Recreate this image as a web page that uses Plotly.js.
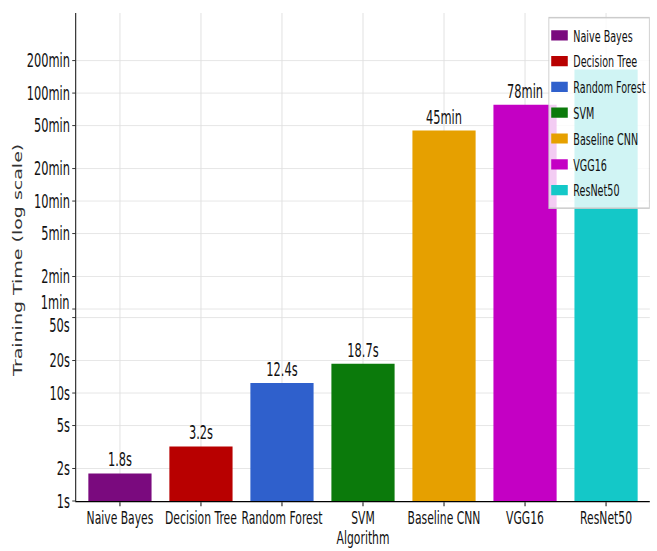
<!DOCTYPE html>
<html>
<head>
<meta charset="utf-8">
<script src="https://cdn.plot.ly/plotly-3.0.1.min.js"></script>
<style>
  html, body { margin: 0; padding: 0; background: #ffffff; overflow: hidden; }
  #frame { width: 657px; height: 551px; overflow: hidden; position: relative; }
  /* chart is laid out wide, then narrowed horizontally for a condensed look */
  #chart { width: 1095px; height: 551px; transform: scaleX(0.6); transform-origin: 0 0; }
</style>
</head>
<body>
<div id="frame"><div id="chart"></div></div>
<script>
// Training time per algorithm, in seconds
const algorithms = ["Naive Bayes", "Decision Tree", "Random Forest", "SVM", "Baseline CNN", "VGG16", "ResNet50"];
const trainSeconds = [1.8, 3.2, 12.4, 18.7, 45 * 60, 78 * 60, 165 * 60];
const valueLabels = ["1.8s", "3.2s", "12.4s", "18.7s", "45min", "78min", ""];
const barColors = ["#7a0a7e", "#b80000", "#2f60cc", "#0b7a0b", "#e6a000", "#c400c4", "#14c8c8"];

// Log-axis ticks (seconds) and their readable labels
const tickSeconds = [1, 2, 5, 10, 20, 50, 60, 120, 300, 600, 1200, 3000, 6000, 12000];
const tickLabels = ["1s", "2s", "5s", "10s", "20s", "50s", "1min", "2min", "5min", "10min", "20min", "50min", "100min", "200min"];
// 50s and 1min sit very close on a log axis; those two labels are nudged apart
const nudgedTicks = { "50s": 7, "1min": -7 };

const font = "DejaVu Sans, sans-serif";

const traces = algorithms.map((name, i) => ({
  type: "bar",
  name: name,
  legendgroup: name,
  x: [name],
  y: [trainSeconds[i]],
  width: 0.78,
  marker: { color: barColors[i], line: { width: 0 } },
  text: [valueLabels[i]],
  textposition: "outside",
  cliponaxis: false,
  textfont: { family: font, size: 19, color: "#111111" },
  hoverinfo: "x+y"
}));

const shownTickText = tickLabels.map(t => (t in nudgedTicks ? "" : t));
const annotations = tickLabels
  .map((t, i) => ({ t, v: tickSeconds[i] }))
  .filter(d => d.t in nudgedTicks)
  .map(d => ({
    xref: "paper", yref: "y",
    x: 0, y: Math.log10(d.v),
    xanchor: "right", yanchor: "middle",
    xshift: -9, yshift: -nudgedTicks[d.t],
    text: d.t, showarrow: false,
    font: { family: font, size: 19, color: "#111111" }
  }));

// axis titles
annotations.push({
  xref: "paper", yref: "paper", x: 0.5, y: 0,
  xanchor: "center", yanchor: "middle", yshift: -36,
  text: "Algorithm", showarrow: false,
  font: { family: font, size: 18, color: "#111111" }
});
annotations.push({
  xref: "paper", yref: "paper", x: 0, y: 0.5,
  xanchor: "center", yanchor: "middle", xshift: -97, yshift: -4,
  textangle: -90,
  text: "Training Time (log scale)", showarrow: false,
  font: { family: font, size: 19, color: "#333333" }
});

const layout = {
  width: 1095,
  height: 551,
  margin: { l: 127, r: 12, t: 13, b: 50 },
  paper_bgcolor: "#ffffff",
  plot_bgcolor: "#ffffff",
  barmode: "overlay",
  showlegend: true,
  legend: {
    x: 1.0, xanchor: "right",
    y: 0.992, yanchor: "top",
    bgcolor: "rgba(255,255,255,0.8)",
    bordercolor: "#cccccc",
    borderwidth: 1.5,
    tracegroupgap: 2,
    itemwidth: 30,
    font: { family: font, size: 16, color: "#111111" }
  },
  annotations: annotations,
  xaxis: {
    type: "category",
    categoryorder: "array",
    categoryarray: algorithms,
    range: [-0.54, 6.54],
    showgrid: true,
    gridcolor: "#e0e0e0",
    gridwidth: 1.6,
    showline: true,
    linecolor: "#000000",
    linewidth: 1.2,
    ticks: "outside",
    ticklen: 4,
    tickwidth: 1.6,
    tickcolor: "#000000",
    tickangle: 0,
    ticklabelstandoff: -4,
    tickfont: { family: font, size: 18, color: "#111111" },
    automargin: false,
    zeroline: false,
    fixedrange: true
  },
  yaxis: {
    type: "log",
    range: [0, 4.52],
    tickmode: "array",
    tickvals: tickSeconds,
    ticktext: shownTickText,
    showgrid: true,
    gridcolor: "#e0e0e0",
    gridwidth: 1,
    showline: true,
    linecolor: "#000000",
    linewidth: 1.6,
    ticks: "outside",
    ticklen: 5,
    tickcolor: "#000000",
    tickfont: { family: font, size: 19, color: "#111111" },
    automargin: false,
    zeroline: false,
    fixedrange: true
  }
};

// stretch the legend swatches into wide, flat rectangles
function widenSwatches(gd) {
  gd.querySelectorAll("g.legend g.traces g.legendpoints path").forEach(p => {
    const base = p.getAttribute("data-base-transform") ?? (p.getAttribute("transform") || "");
    p.setAttribute("data-base-transform", base);
    p.setAttribute("transform", (base + " translate(-3,0) scale(2.3,0.85)").trim());
  });
}

Plotly.newPlot("chart", traces, layout, { displayModeBar: false, staticPlot: true })
  .then(gd => { widenSwatches(gd); gd.on("plotly_afterplot", () => widenSwatches(gd)); });
</script>
</body>
</html>
